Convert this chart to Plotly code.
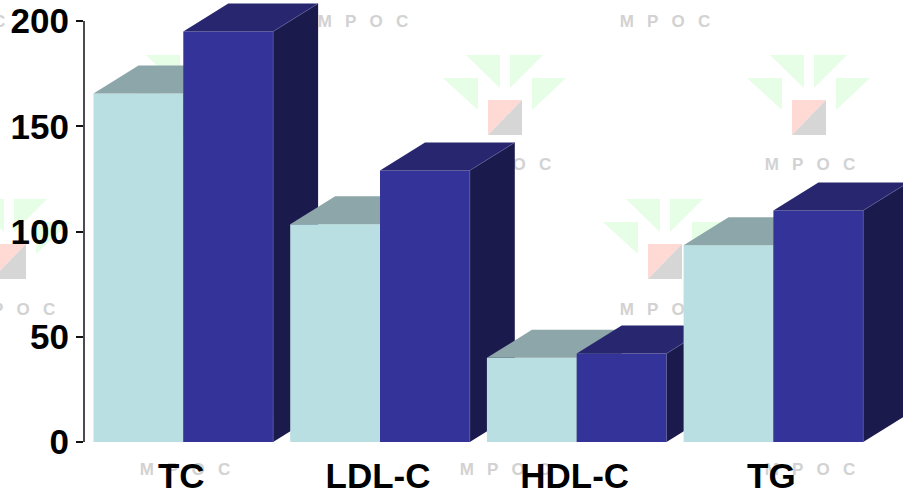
import plotly.graph_objects as go

# Lipid panel values per group
categories = ["TC", "LDL-C", "HDL-C", "TG"]
series_before = [165.5, 103.5, 40, 93.5]
series_after = [195, 129, 42, 110]
y_ticks = [0, 50, 100, 150, 200]

WIDTH, HEIGHT = 903, 492
LEFT, BOTTOM_PX = 84, 442
PLOT_W = WIDTH - LEFT
PX_PER_UNIT = 2.105
PX_PER_CAT = 196.7
X0_PX = 380.0  # pixel centre of category index 1

BAR_W = 89.8 / PX_PER_CAT
DEPTH_X = 45 / PX_PER_CAT
DEPTH_Y = 28 / PX_PER_UNIT

x_min = 1 - (X0_PX - LEFT) / PX_PER_CAT
x_max = x_min + PLOT_W / PX_PER_CAT
y_max = BOTTOM_PX / PX_PER_UNIT

STYLES = [
    {"front": "#B9DFE2", "top": "#8CA6A9", "side": "#6F9093", "edge": None},
    {"front": "#333399", "top": "#27266F", "side": "#1B1A4D", "edge": "#5F5FA0"},
]


def px(x):
    return (x - LEFT) / PLOT_W


def py(y):
    return (BOTTOM_PX - y) / BOTTOM_PX


def polygon(points, color, z):
    return go.Scatter(
        x=[p[0] for p in points], y=[p[1] for p in points],
        mode="lines", fill="toself", fillcolor=color,
        line=dict(width=0, color=color), hoverinfo="skip",
        showlegend=False, zorder=z,
    )


fig = go.Figure()

# Extruded bars, painted back to front: each group left to right
z = 1
for i, _ in enumerate(categories):
    for s, values in enumerate([series_before, series_after]):
        style = STYLES[s]
        v = values[i]
        x0 = i - BAR_W + s * BAR_W
        x1 = x0 + BAR_W
        fig.add_trace(go.Bar(
            x=[x0], y=[v], base=0, width=[BAR_W], offset=0,
            marker=dict(color=style["front"], line=dict(width=0)),
            hoverinfo="skip", showlegend=False, zorder=z,
        ))
        fig.add_trace(polygon(
            [(x0, v), (x1, v), (x1 + DEPTH_X, v + DEPTH_Y),
             (x0 + DEPTH_X, v + DEPTH_Y), (x0, v)], style["top"], z + 1))
        fig.add_trace(polygon(
            [(x1, 0), (x1 + DEPTH_X, DEPTH_Y), (x1 + DEPTH_X, v + DEPTH_Y),
             (x1, v), (x1, 0)], style["side"], z + 1))
        if style["edge"]:
            fig.add_trace(go.Scatter(
                x=[x1, x1, x1 + DEPTH_X], y=[0, v, v + DEPTH_Y],
                mode="lines", line=dict(width=0.6, color=style["edge"]),
                hoverinfo="skip", showlegend=False, zorder=z + 2,
            ))
        z += 3

# Faint logo and wordmark printed behind the chart
shapes = []


def triangle(points, color):
    path = "M " + " L ".join(f"{px(a):.5f},{py(b):.5f}" for a, b in points) + " Z"
    return dict(type="path", path=path, xref="paper", yref="paper",
                fillcolor=color, line=dict(width=0), layer="below")


def logo(sx, sy):
    green = "#E6FDE6"
    shapes.append(triangle([(sx - 22, sy - 45), (sx + 12, sy - 45), (sx + 12, sy - 12)], green))
    shapes.append(triangle([(sx + 22, sy - 45), (sx + 55, sy - 45), (sx + 22, sy - 12)], green))
    shapes.append(triangle([(sx - 45, sy - 22), (sx - 10, sy - 22), (sx - 10, sy + 10)], green))
    shapes.append(triangle([(sx + 44, sy - 22), (sx + 78, sy - 22), (sx + 44, sy + 10)], green))
    shapes.append(triangle([(sx, sy), (sx + 34, sy), (sx, sy + 35)], "#FFDAD5"))
    shapes.append(triangle([(sx + 34, sy), (sx + 34, sy + 35), (sx, sy + 35)], "#D6D6D6"))


def wordmark(cx, cy):
    shapes.append(dict(
        type="rect", xref="paper", yref="paper",
        x0=px(cx - 60), x1=px(cx + 60), y0=py(cy + 12), y1=py(cy - 12),
        line=dict(width=0), fillcolor="rgba(0,0,0,0)", layer="below",
        label=dict(text="<b>M\u2002 P\u2002 O\u2002 C</b>", textposition="middle center",
                   font=dict(family="Liberation Sans", size=17, color="#D2D2D2")),
    ))


for sx, sy in [(168, 100), (488, 100), (792, 100), (648, 244), (-8, 244)]:
    logo(sx, sy)
for cx, cy in [(-40, 19), (363, 19), (665, 19), (506, 162), (810, 162),
               (10, 307), (665, 307), (185, 467), (505, 467), (810, 467)]:
    wordmark(cx, cy)

# Value axis line, stopping at the top tick
shapes.append(dict(type="line", xref="paper", yref="y", x0=0, x1=0, y0=0, y1=y_ticks[-1],
                   line=dict(color="#111111", width=1.5), layer="above"))

tick_font = dict(family="Liberation Sans", size=35, color="#000000", weight="bold")

fig.update_layout(
    width=WIDTH, height=HEIGHT,
    margin=dict(l=LEFT, r=0, t=0, b=HEIGHT - BOTTOM_PX, pad=0, autoexpand=False),
    paper_bgcolor="white", plot_bgcolor="rgba(0,0,0,0)",
    barmode="overlay", showlegend=False, shapes=shapes,
    xaxis=dict(
        range=[x_min, x_max], tickmode="array",
        tickvals=list(range(len(categories))), ticktext=categories,
        showgrid=False, zeroline=False, showline=False, ticks="",
        tickfont=tick_font, fixedrange=True, automargin=False,
        ticklabelstandoff=10, ticklabelshift=-2,
    ),
    yaxis=dict(
        range=[0, y_max], tickmode="array", tickvals=y_ticks,
        ticktext=[str(t) for t in y_ticks],
        showgrid=False, zeroline=False, showline=False,
        ticks="outside", ticklen=7, tickwidth=1.5, tickcolor="#111111",
        tickfont=tick_font, fixedrange=True, automargin=False,
    ),
)

fig.write_html("out.html", config={"displayModeBar": False})
